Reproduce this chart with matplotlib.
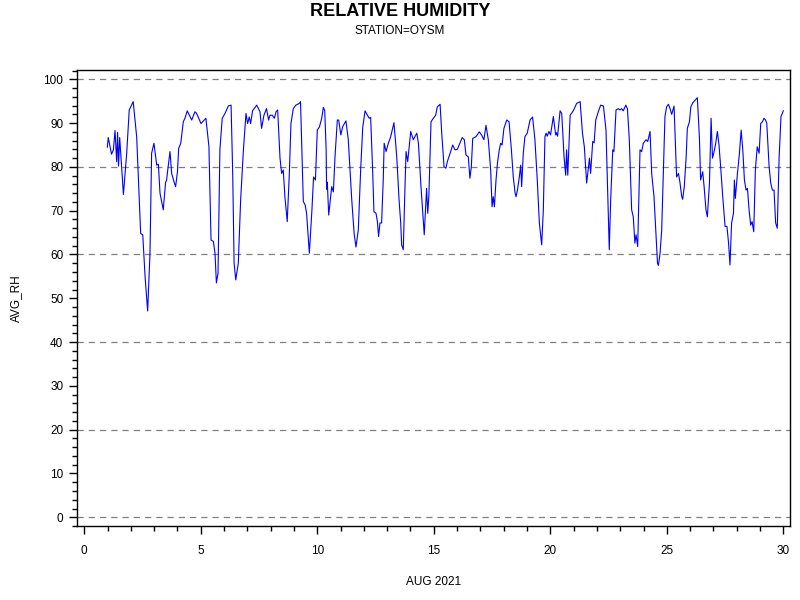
import matplotlib
matplotlib.use("Agg")
import matplotlib.pyplot as plt
from matplotlib.ticker import MultipleLocator

plt.rcParams['font.family'] = ['Liberation Sans', 'DejaVu Sans']

# Day of August 2021 (fractional) and average relative humidity
days = [
    0.99, 1.03, 1.17, 1.25, 1.32, 1.39, 1.43, 1.47, 1.52, 1.68, 1.82, 1.93, 2.10, 2.25,
    2.42, 2.51, 2.61, 2.72, 2.82, 2.89, 2.99, 3.11, 3.18, 3.25, 3.39, 3.49, 3.53, 3.58,
    3.68, 3.75, 3.85, 3.92, 4.00, 4.05, 4.14, 4.25, 4.32, 4.42, 4.51, 4.61, 4.75, 4.82,
    5.01, 5.22, 5.35, 5.44, 5.54, 5.61, 5.67, 5.74, 5.82, 5.92, 6.04, 6.18, 6.30, 6.37,
    6.43, 6.50, 6.61, 6.71, 6.83, 6.94, 7.01, 7.08, 7.14, 7.22, 7.40, 7.54, 7.61, 7.71,
    7.82, 7.91, 7.97, 8.07, 8.16, 8.23, 8.30, 8.40, 8.47, 8.54, 8.61, 8.71, 8.80, 8.87,
    8.97, 9.08, 9.23, 9.28, 9.40, 9.48, 9.54, 9.66, 9.77, 9.84, 9.92, 10.00, 10.09, 10.19,
    10.26, 10.32, 10.38, 10.40, 10.43, 10.49, 10.62, 10.69, 10.76, 10.86, 10.92, 11.01,
    11.09, 11.23, 11.33, 11.48, 11.58, 11.66, 11.76, 11.86, 11.95, 12.05, 12.15, 12.23,
    12.29, 12.38, 12.43, 12.52, 12.58, 12.63, 12.69, 12.76, 12.83, 12.87, 12.95, 13.05,
    13.15, 13.29, 13.41, 13.51, 13.58, 13.62, 13.69, 13.76, 13.81, 13.88, 14.01, 14.12,
    14.27, 14.34, 14.45, 14.59, 14.69, 14.74, 14.79, 14.88, 14.98, 15.08, 15.15, 15.27,
    15.34, 15.44, 15.52, 15.58, 15.70, 15.81, 15.91, 16.01, 16.12, 16.22, 16.31, 16.38,
    16.48, 16.55, 16.61, 16.67, 16.81, 16.95, 17.05, 17.15, 17.24, 17.34, 17.44, 17.50,
    17.55, 17.60, 17.67, 17.73, 17.81, 17.87, 17.93, 18.01, 18.13, 18.23, 18.33, 18.41,
    18.49, 18.53, 18.59, 18.67, 18.73, 18.77, 18.84, 18.91, 19.01, 19.13, 19.24, 19.34,
    19.44, 19.53, 19.63, 19.70, 19.77, 19.82, 19.87, 19.94, 20.01, 20.13, 20.23, 20.27,
    20.31, 20.42, 20.49, 20.59, 20.66, 20.70, 20.75, 20.85, 20.96, 21.03, 21.13, 21.28,
    21.38, 21.46, 21.56, 21.68, 21.73, 21.82, 21.88, 21.95, 22.06, 22.16, 22.28, 22.39,
    22.49, 22.53, 22.59, 22.68, 22.73, 22.82, 22.92, 22.99, 23.06, 23.13, 23.24, 23.31,
    23.39, 23.49, 23.56, 23.63, 23.68, 23.75, 23.85, 23.92, 23.99, 24.11, 24.18, 24.28,
    24.35, 24.45, 24.54, 24.60, 24.64, 24.71, 24.78, 24.85, 24.92, 24.99, 25.07, 25.14,
    25.21, 25.31, 25.42, 25.50, 25.56, 25.64, 25.68, 25.75, 25.83, 25.88, 25.97, 26.03,
    26.11, 26.21, 26.31, 26.40, 26.45, 26.54, 26.60, 26.68, 26.74, 26.83, 26.90, 26.96,
    27.03, 27.10, 27.17, 27.24, 27.32, 27.40, 27.50, 27.58, 27.65, 27.71, 27.78, 27.86,
    27.90, 27.94, 28.03, 28.11, 28.19, 28.26, 28.33, 28.40, 28.46, 28.53, 28.60, 28.66,
    28.73, 28.80, 28.88, 28.96, 29.03, 29.10, 29.17, 29.24, 29.29, 29.39, 29.46, 29.53,
    29.60, 29.67, 29.74, 29.82, 29.90, 30.00,
]
avg_rh = [
    84.5, 86.7, 82.9, 83.9, 88.3, 81.2, 87.9, 80.2, 86.7, 73.7, 83.1, 93.0, 94.9, 86.8,
    64.8, 64.5, 54.9, 47.1, 60.3, 83.1, 85.4, 80.4, 80.6, 74.0, 70.2, 76.5, 76.9, 79.2,
    83.5, 78.5, 76.6, 75.5, 78.9, 84.2, 85.4, 90.3, 91.1, 92.8, 91.8, 90.7, 92.6, 92.2,
    89.9, 91.1, 84.6, 63.3, 63.0, 60.3, 53.5, 55.7, 83.9, 91.1, 92.2, 93.9, 94.1, 78.5,
    58.0, 54.2, 58.0, 72.4, 83.9, 92.2, 89.9, 91.4, 89.9, 92.8, 94.1, 92.6, 88.8, 91.8,
    93.3, 90.7, 91.8, 91.8, 91.1, 92.6, 93.0, 82.0, 78.5, 79.3, 73.2, 67.5, 78.5, 89.9,
    93.3, 94.1, 94.5, 94.9, 72.1, 71.3, 69.4, 60.3, 70.2, 77.7, 77.0, 88.4, 89.1, 91.1,
    93.6, 92.8, 83.9, 74.9, 76.5, 69.0, 75.5, 74.3, 82.3, 90.7, 90.7, 87.3,
    89.2, 90.5, 86.2, 72.4, 64.8, 61.7, 65.6, 79.2, 89.0, 92.8, 91.8, 91.1,
    91.3, 78.5, 69.8, 69.4, 67.5, 64.1, 67.2, 67.2, 77.0, 85.4, 83.5, 85.4,
    86.9, 90.1, 82.3, 72.4, 67.2, 62.2, 61.1, 74.8, 83.5, 81.2, 88.1, 86.2,
    87.7, 85.4, 75.5, 64.5, 75.1, 69.4, 73.6, 90.3, 91.1, 91.8, 93.7, 94.3,
    87.7, 80.0, 79.7, 81.2, 83.1, 85.0, 83.9, 84.0, 85.4, 86.7, 86.2, 82.7,
    82.3, 77.4, 80.0, 86.5, 86.9, 88.0, 87.3, 86.2, 89.5, 86.2, 79.3, 70.9,
    73.2, 70.9, 77.0, 80.8, 83.9, 85.4, 85.0, 88.8, 90.7, 90.3, 83.9, 77.7,
    74.0, 73.2, 74.7, 77.7, 80.4, 75.5, 83.1, 86.9, 87.7, 90.7, 91.4, 86.2,
    77.0, 67.2, 62.2, 70.2, 86.9, 87.7, 87.0, 88.1, 87.3, 91.5, 87.3, 87.8,
    87.0, 92.8, 92.2, 82.3, 78.1, 83.9, 78.1, 91.8, 92.6, 93.3, 94.5, 94.9,
    87.7, 84.6, 76.3, 82.0, 78.5, 85.8, 85.5, 90.7, 92.6, 94.1, 93.9, 88.4,
    68.6, 61.1, 72.4, 83.9, 83.5, 93.0, 93.3, 93.0, 93.3, 92.8, 94.1, 93.3,
    86.2, 70.2, 68.6, 62.6, 64.5, 61.8, 83.9, 83.5, 85.4, 86.2, 85.8, 88.1,
    78.5, 73.2, 64.1, 58.0, 57.5, 60.3, 65.6, 78.5, 91.5, 93.7, 94.3, 93.3,
    92.0, 93.9, 77.7, 78.5, 76.6, 73.2, 72.6, 75.5, 82.3, 88.8, 90.3, 93.7,
    94.6, 95.2, 95.8, 86.5, 77.0, 78.9, 75.5, 70.2, 68.6, 76.3, 91.1, 82.0,
    83.5, 85.4, 88.1, 85.0, 79.3, 73.2, 66.4, 66.4, 62.6, 57.6, 67.2, 69.4,
    77.0, 72.8, 78.5, 82.7, 88.4, 83.9, 77.0, 74.7, 75.1, 70.2, 66.7, 67.5,
    65.2, 79.3, 84.6, 83.1, 89.9, 90.3, 91.1, 90.7, 89.9, 80.0, 76.3, 74.7,
    74.7, 67.2, 66.0, 82.3, 91.5, 92.8,
]

x_ticks = [0, 5, 10, 15, 20, 25, 30]
y_ticks = [0, 10, 20, 30, 40, 50, 60, 70, 80, 90, 100]
grid_levels = [0, 20, 40, 60, 80, 100]

fig = plt.figure(figsize=(8, 6), dpi=100)
ax = fig.add_axes([0.0966, 0.1233, 0.8913, 0.7595])

for g in grid_levels:
    ax.axhline(g, color='#808080', linestyle=(0, (5, 4)), linewidth=0.9, zorder=1)

ax.plot(days, avg_rh, color='#0000ff', linewidth=0.8, zorder=3)

ax.set_xlim(-0.3, 30.3)
ax.set_ylim(-2.0, 102.05)
ax.set_xticks(x_ticks)
ax.set_yticks(y_ticks)
ax.xaxis.set_minor_locator(MultipleLocator(1))
ax.yaxis.set_minor_locator(MultipleLocator(2))
ax.tick_params(axis='both', which='major', direction='out', length=6, width=1,
               labelsize=8.5, color='black')
ax.tick_params(axis='both', which='minor', direction='out', length=3.5, width=1,
               color='black')
ax.tick_params(axis='x', which='major', pad=8)
ax.tick_params(axis='y', which='major', pad=4)
for s in ax.spines.values():
    s.set_linewidth(1)
    s.set_color('black')

ax.set_xlabel('AUG 2021', fontsize=8.5)
ax.set_ylabel('AVG_RH', fontsize=8.5)
ax.xaxis.set_label_coords(0.5, -0.1086)
ax.yaxis.set_label_coords(-0.0776, 0.5)

fig.text(0.5, 0.981, 'RELATIVE HUMIDITY', ha='center', va='center',
         fontsize=13, fontweight='bold')
fig.text(0.5, 0.948, 'STATION=OYSM', ha='center', va='center', fontsize=8.5)

fig.savefig('out.png', dpi=100)
